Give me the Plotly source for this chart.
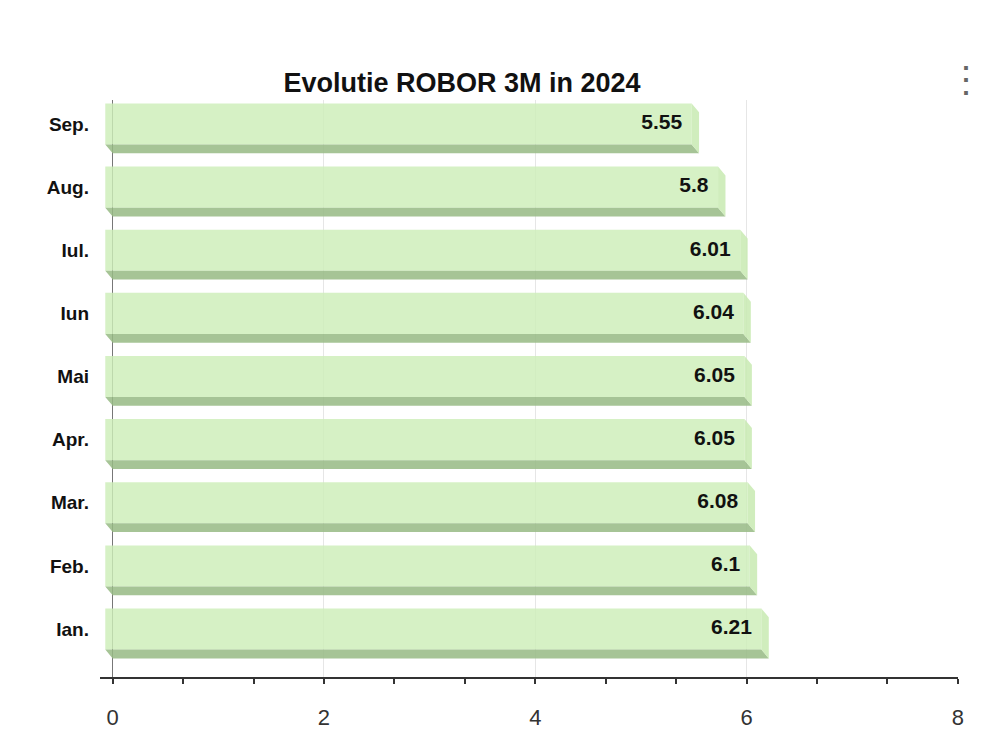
import plotly.graph_objects as go

# ---- data ----
months = ["Ian.", "Feb.", "Mar.", "Apr.", "Mai", "Iun", "Iul.", "Aug.", "Sep."]
values = [6.21, 6.1, 6.08, 6.05, 6.05, 6.04, 6.01, 5.8, 5.55]
x_ticks = [0, 2, 4, 6, 8]
title_text = "Evolutie ROBOR 3M in 2024"

positions = list(range(len(months)))

# ---- 3D bar geometry (data units) ----
D = 0.07    # horizontal depth offset
HH = 0.325  # half height of front face
H = 0.14    # vertical depth offset

FRONT = "rgba(205,238,184,0.82)"
BOTTOM = "rgba(150,186,132,0.85)"
SIDE = "rgba(200,234,178,0.85)"

fig = go.Figure()

# front faces
fig.add_trace(go.Bar(
    y=positions, x=values, base=-D, orientation="h", width=2 * HH,
    marker=dict(color=FRONT, line=dict(width=0)), hoverinfo="skip",
))

# bottom faces
bx, by = [], []
for p, v in zip(positions, values):
    bx += [-D, v - D, v, 0, -D, None]
    by += [p - HH, p - HH, p - HH - H, p - HH - H, p - HH, None]
fig.add_trace(go.Scatter(x=bx, y=by, mode="lines", fill="toself",
                         fillcolor=BOTTOM, line=dict(width=0), hoverinfo="skip"))

# right side faces
sx, sy = [], []
for p, v in zip(positions, values):
    sx += [v - D, v, v, v - D, v - D, None]
    sy += [p + HH, p + HH - H, p - HH - H, p - HH, p + HH, None]
fig.add_trace(go.Scatter(x=sx, y=sy, mode="lines", fill="toself",
                         fillcolor=SIDE, line=dict(width=0), hoverinfo="skip"))

# value labels
fig.add_trace(go.Scatter(
    x=[v - 0.16 for v in values], y=positions, mode="text",
    text=[f"{v:g}" for v in values], textposition="middle left",
    textfont=dict(family="Liberation Sans", size=21, color="#111", weight="bold"),
    hoverinfo="skip",
))

fig.update_layout(
    width=1000, height=750,
    margin=dict(l=92, r=50, t=92, b=81),
    paper_bgcolor="white", plot_bgcolor="white",
    showlegend=False, barmode="overlay",
    title=dict(text=title_text, x=0.454, xanchor="center", y=1 - 75 / 750,
               yanchor="middle", yref="container",
               font=dict(family="Liberation Sans", size=27, color="#111", weight="bold")),
    font=dict(family="Liberation Sans"),
    xaxis=dict(
        range=[-0.12, 8.001], tickvals=x_ticks, ticktext=[str(t) for t in x_ticks],
        showgrid=True, gridcolor="#e6e6e6", gridwidth=1,
        zeroline=True, zerolinecolor="#777", zerolinewidth=1,
        showline=True, linecolor="#333", linewidth=2,
        ticks="", ticklabelstandoff=20,
        tickfont=dict(size=22, color="#333"),
        minor=dict(dtick=2 / 3, tick0=0, ticks="outside", ticklen=5,
                   tickcolor="#333", tickwidth=1.5, showgrid=False),
    ),
    yaxis=dict(
        range=[-0.76, 8.38], tickvals=positions, ticktext=months,
        showgrid=False, zeroline=False, showline=False, ticks="",
        ticklabelstandoff=10,
        tickfont=dict(size=19, color="#111", weight="bold"),
    ),
    annotations=[dict(text="⋮", xref="paper", yref="paper", x=1.033, y=1.075,
                      showarrow=False, font=dict(size=36, color="#666"))],
)

fig.write_html("out.html")
